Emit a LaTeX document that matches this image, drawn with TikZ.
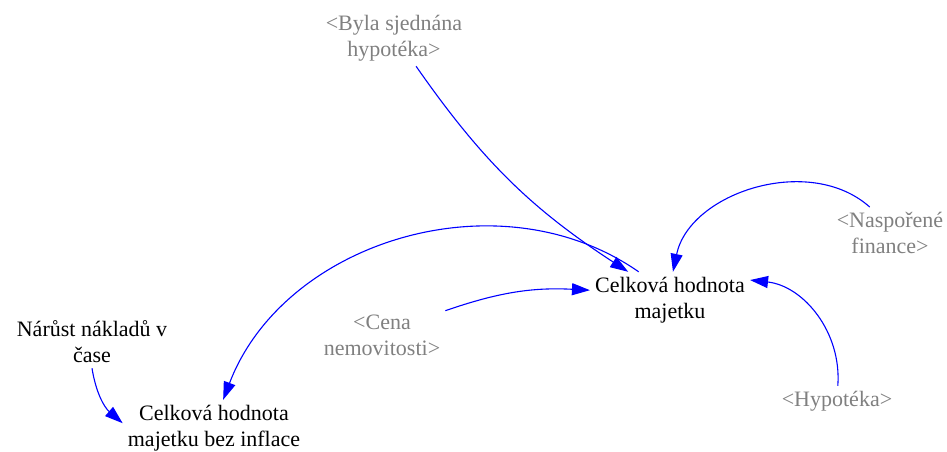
\documentclass[tikz,border=0pt]{standalone}
\usepackage{fontspec}
\setmainfont{Liberation Serif}
\newfontfamily\varfont{Liberation Serif}
\usetikzlibrary{arrows.meta}

\tikzset{
	var/.style={align=center, inner sep=5pt, font=\varfont\fontsize{22}{26}\selectfont},
	shadowvar/.style={var, text=gray},
	link/.style={blue, line width=1.1pt, -{Triangle[length=18pt,width=12pt]}}
}

\begin{document}
\begin{tikzpicture}[x=1pt, y=-1pt]
	\useasboundingbox (0,0) rectangle (947,452);
	
	% variables
	\node[shadowvar] (byla) at (394,38) {<Byla sjednána\\hypotéka>};
	\node[shadowvar] (naspo) at (890,233) {<Naspořené\\finance>};
	\node[shadowvar] (cena) at (382,335) {<Cena\\nemovitosti>};
	\node[shadowvar] (hypo) at (837,401) {<Hypotéka>};
	\node[var] (celk) at (670,300) {Celková hodnota\\majetku};
	\node[var] (narust) at (92,342) {Nárůst nákladů v\\čase};
	\node[var] (bezinf) at (214,428) {Celková hodnota\\majetku bez inflace};
	
	% links
	\draw[link] (byla.-52) to[bend right=11] (celk.146);
	\draw[link] (naspo.128) to[bend right=60] (celk.84);
	\draw[link] (cena.21) to[bend left=11] (celk.173);
	\draw[link] (hypo.87) to[bend right=44] (celk.14);
	\draw[link] (celk.138) to[bend right=52] (bezinf.72);
	\draw[link] (narust.south) to[bend right=20] (bezinf.177);
	
\end{tikzpicture}
\end{document}
